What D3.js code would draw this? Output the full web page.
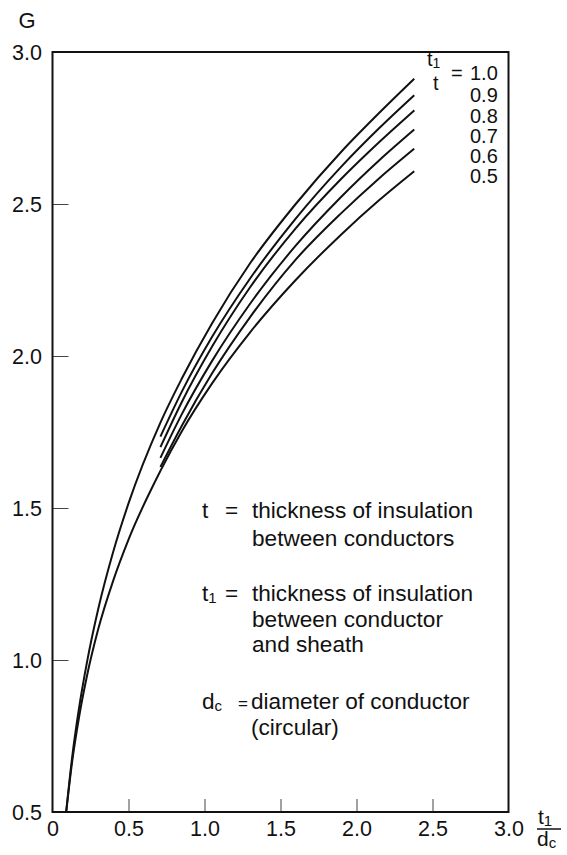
<!DOCTYPE html>
<html><head><meta charset="utf-8">
<script src="https://cdn.jsdelivr.net/npm/d3@7"></script>
<style>
body{margin:0;background:#fff}
svg{display:block}
text{font-family:"Liberation Sans",Arial,Helvetica,sans-serif;fill:#111}
</style>
</head><body>
<svg id="c" width="567" height="855"></svg>
<script>
// ---- data ----
const fullX = [0.09,0.13,0.174,0.227,0.3,0.4,0.5,0.71,0.85,1.05,1.3,1.6,1.9,2.15,2.38];
const g10   = [0.50,0.683,0.84,0.993,1.166,1.357,1.515,1.781,1.925,2.108,2.305,2.50,2.672,2.80,2.912];
const g05   = [0.50,0.668,0.81,0.948,1.10,1.262,1.396,1.622,1.752,1.91,2.078,2.25,2.40,2.513,2.608];
const partX = [0.71,0.85,1.05,1.3,1.6,1.9,2.15,2.38];
const g09   = [1.735,1.882,2.063,2.255,2.452,2.623,2.750,2.858];
const g08   = [1.70,1.848,2.031,2.226,2.42,2.583,2.704,2.808];
const g07   = [1.665,1.808,1.984,2.172,2.363,2.524,2.644,2.745];
const g06   = [1.635,1.77,1.943,2.128,2.317,2.47,2.585,2.682];
const ratioLabels = ["1.0","0.9","0.8","0.7","0.6","0.5"];
const xTickMarks = [0.5,1.0,1.5,2.0,2.5];
const xTickVals = [0,0.5,1.0,1.5,2.0,2.5,3.0];
const xTickLabels = ["0","0.5","1.0","1.5","2.0","2.5","3.0"];
const yTickMarks = [1.0,1.5,2.0,2.5];
const yTickVals = [0.5,1.0,1.5,2.0,2.5,3.0];
const yTickLabels = ["0.5","1.0","1.5","2.0","2.5","3.0"];

const series = [
  {xs: fullX, ys: g10},
  {xs: partX, ys: g09},
  {xs: partX, ys: g08},
  {xs: partX, ys: g07},
  {xs: partX, ys: g06},
  {xs: fullX, ys: g05}
];

const svg = d3.select("#c");
const L = 52.5, R = 508.5, T = 52, B = 812;
const x = d3.scaleLinear().domain([0,3]).range([L,R]);
const y = d3.scaleLinear().domain([0.5,3]).range([B,T]);

// ticks (inward)
const xt = svg.append("g").attr("transform",`translate(0,${B})`)
  .call(d3.axisBottom(x).tickValues(xTickMarks).tickSizeInner(-13).tickSizeOuter(0).tickFormat(""));
xt.select(".domain").remove();
xt.selectAll("line").attr("stroke","#444").attr("stroke-width",1);

const yt = svg.append("g").attr("transform",`translate(${L},0)`)
  .call(d3.axisLeft(y).tickValues(yTickMarks).tickSizeInner(-16).tickSizeOuter(0).tickFormat(""));
yt.select(".domain").remove();
yt.selectAll("line").attr("stroke","#444").attr("stroke-width",1);

// tick labels
const xl = svg.append("g").attr("transform",`translate(0,${B})`)
  .call(d3.axisBottom(x).tickValues(xTickVals).tickSize(0).tickFormat((d,i)=>xTickLabels[i]));
xl.select(".domain").remove();
xl.selectAll("text").attr("y",24).attr("dy",0).attr("font-size",21.5)
  .style("font-family","'Liberation Sans',Arial,sans-serif").attr("fill","#111");

const yl = svg.append("g").attr("transform",`translate(${L},0)`)
  .call(d3.axisLeft(y).tickValues(yTickVals).tickSize(0).tickFormat((d,i)=>yTickLabels[i]));
yl.select(".domain").remove();
yl.selectAll("text").attr("x",-10.5).attr("dy","0.37em").attr("font-size",21.5)
  .style("font-family","'Liberation Sans',Arial,sans-serif").attr("fill","#111");

// frame
svg.append("rect").attr("x",L).attr("y",T).attr("width",R-L).attr("height",B-T)
  .attr("fill","none").attr("stroke","#111").attr("stroke-width",2);

// curves
const line = d3.line().x(d=>x(d[0])).y(d=>y(d[1])).curve(d3.curveMonotoneX);
svg.append("g").selectAll("path").data(series).join("path")
  .attr("d",s=>line(s.xs.map((v,i)=>[v,s.ys[i]])))
  .attr("fill","none").attr("stroke","#111").attr("stroke-width",2);

// axis titles
svg.append("text").attr("x",27).attr("y",28).attr("text-anchor","middle").attr("font-size",22).text("G");

const fr = svg.append("g");
const ft = fr.append("text").attr("x",538).attr("y",824).attr("font-size",21);
ft.append("tspan").text("t");
ft.append("tspan").attr("font-size",15).attr("dy",2).text("1");
fr.append("line").attr("x1",537).attr("x2",561).attr("y1",829).attr("y2",829).attr("stroke","#111").attr("stroke-width",1.5);
const fd = fr.append("text").attr("x",537).attr("y",846).attr("font-size",21);
fd.append("tspan").text("d");
fd.append("tspan").attr("font-size",15).attr("dy",2).text("c");

// ratio legend
const lg = svg.append("g");
const lt1 = lg.append("text").attr("x",427).attr("y",66).attr("font-size",20);
lt1.append("tspan").text("t");
lt1.append("tspan").attr("font-size",14).attr("dy",2).text("1");
lg.append("text").attr("x",433).attr("y",90).attr("font-size",20).text("t");
lg.append("text").attr("x",451).attr("y",80).attr("font-size",20).text("=");
const lBase = [80,102,123,143,163,183];
lg.selectAll("text.rv").data(ratioLabels).join("text").attr("class","rv")
  .attr("x",470).attr("y",(d,i)=>lBase[i]).attr("font-size",20).text(d=>d);

// definitions block
const defs = svg.append("g").attr("font-size",22.6);
function sym(base, sub, yy){
  const t = defs.append("text").attr("x",202).attr("y",yy);
  t.append("tspan").text(base);
  if(sub){ t.append("tspan").attr("font-size",15).attr("dy",2).text(sub); }
}
sym("t",null,518);
defs.append("text").attr("x",225).attr("y",518).text("=");
defs.append("text").attr("x",252).attr("y",518).text("thickness of insulation");
defs.append("text").attr("x",252).attr("y",546).text("between conductors");

sym("t","1",601);
defs.append("text").attr("x",225).attr("y",601).text("=");
defs.append("text").attr("x",252).attr("y",601).text("thickness of insulation");
defs.append("text").attr("x",252).attr("y",627).text("between conductor");
defs.append("text").attr("x",252).attr("y",652).text("and sheath");

sym("d","c",709);
defs.append("text").attr("x",238).attr("y",709).attr("font-size",17).text("=");
defs.append("text").attr("x",251).attr("y",709).text("diameter of conductor");
defs.append("text").attr("x",251).attr("y",735).text("(circular)");
</script>
</body></html>
